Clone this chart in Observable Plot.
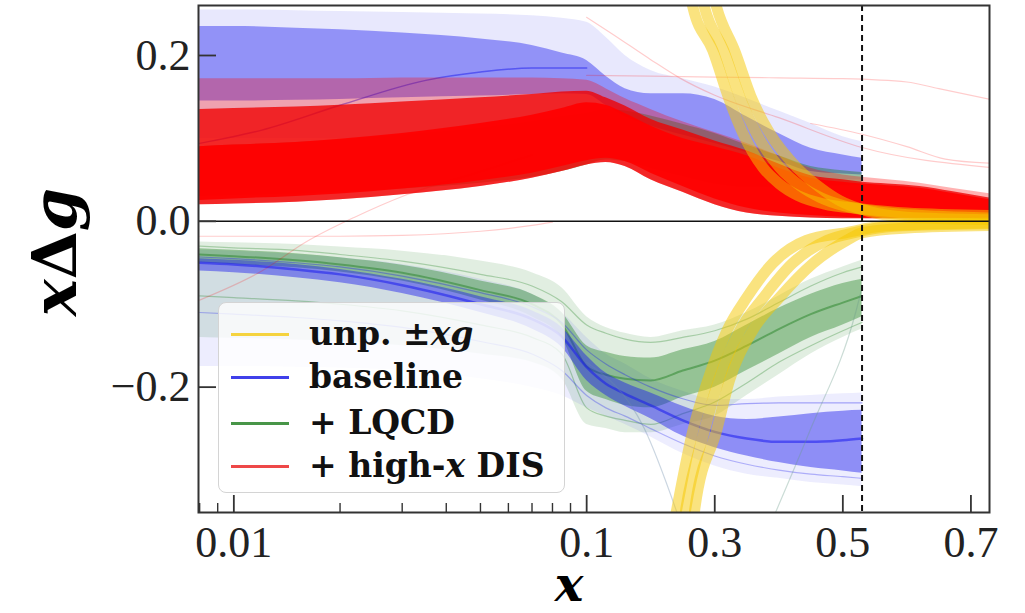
<!DOCTYPE html>
<html><head><meta charset="utf-8">
<script src="https://cdn.jsdelivr.net/npm/d3@7"></script>
<script src="https://cdn.jsdelivr.net/npm/@observablehq/plot@0.6"></script>
<style>
body{margin:0;background:#fff;}
#wrap{position:relative;width:1025px;height:613px;overflow:hidden;background:#fff;}
#wrap svg{position:absolute;left:0;top:0;}
.ylab{position:absolute;left:55px;top:252px;transform:translate(-50%,-50%) rotate(-90deg);white-space:nowrap;font:italic bold 62px "DejaVu Serif";color:#000;line-height:50px;}
.legend{position:absolute;left:218px;top:302px;width:345px;height:189px;border:1.5px solid #d4d4d4;border-radius:8px;background:rgba(255,255,255,0.8);}
.legend .row{position:absolute;left:0;height:40px;width:100%;}
.legend .sw{position:absolute;left:12px;top:19px;width:58px;height:3px;}
.legend .tx{position:absolute;left:90px;top:0;line-height:40px;font:bold 33px "DejaVu Serif";color:#111;white-space:nowrap;}
.legend i{font-style:italic;}
</style></head><body><div id="wrap"></div><script>
// ---------- data ----------
const grid = [0.008,0.01,0.015,0.02,0.03,0.05,0.07,0.085,0.1,0.13,0.16,0.2,0.25,0.3,0.35,0.4,0.45,0.5,0.53];
const gridRed = [0.008,0.01,0.015,0.02,0.03,0.05,0.07,0.085,0.1,0.13,0.16,0.2,0.25,0.3,0.35,0.4,0.45,0.5,0.53,0.57,0.62,0.67,0.73];

// baseline (blue), positive branch
const blueUpOuterHi = [0.255,0.255,0.254,0.253,0.252,0.25,0.248,0.245,0.24,0.222,0.2,0.182,0.172,0.162,0.148,0.133,0.118,0.102,0.096];
const blueUpOuterLo = [0.10,0.10,0.10,0.10,0.10,0.105,0.11,0.11,0.11,0.10,0.09,0.08,0.07,0.065,0.06,0.055,0.05,0.05,0.05];
const blueUpCoreHi  = [0.235,0.235,0.233,0.231,0.227,0.22,0.212,0.203,0.194,0.175,0.16,0.154,0.154,0.147,0.126,0.106,0.088,0.08,0.076];
const blueUpCoreLo  = [0.145,0.145,0.146,0.147,0.149,0.151,0.153,0.154,0.153,0.14,0.126,0.115,0.104,0.094,0.083,0.072,0.06,0.057,0.056];
// + LQCD (green), positive branch
const greenUpHi = [0.09,0.092,0.095,0.098,0.104,0.112,0.12,0.126,0.13,0.135,0.133,0.127,0.117,0.106,0.092,0.079,0.066,0.061,0.059];
const greenUpLo = [0.03,0.031,0.033,0.035,0.039,0.046,0.053,0.06,0.068,0.074,0.072,0.064,0.054,0.045,0.041,0.041,0.042,0.043,0.043];
// + high-x DIS (red)
const redOuterHi = [0.172,0.172,0.172,0.172,0.173,0.173,0.173,0.172,0.17,0.16,0.148,0.135,0.12,0.107,0.094,0.079,0.064,0.056,0.053,0.05,0.046,0.04,0.033];
const redOuterLo = [0.02,0.021,0.023,0.026,0.032,0.042,0.052,0.06,0.068,0.071,0.066,0.05,0.035,0.02,0.01,0.006,0.004,0.003,0.003,0.003,0.003,0.003,0.002];
const redMidHi   = [0.135,0.136,0.138,0.14,0.144,0.149,0.153,0.156,0.157,0.149,0.139,0.123,0.11,0.097,0.085,0.069,0.055,0.05,0.047,0.045,0.042,0.036,0.028];
const redCoreHi  = [0.09,0.092,0.095,0.099,0.106,0.118,0.128,0.136,0.143,0.14,0.13,0.115,0.1,0.09,0.079,0.064,0.052,0.047,0.045,0.043,0.04,0.034,0.026];
const redCoreLo  = [0.025,0.027,0.03,0.033,0.039,0.049,0.058,0.066,0.073,0.076,0.072,0.058,0.042,0.027,0.016,0.01,0.007,0.005,0.004,0.004,0.004,0.004,0.003];
// baseline (blue), negative branch
const blueLoOuterHi = [-0.035,-0.036,-0.04,-0.044,-0.052,-0.07,-0.088,-0.11,-0.14,-0.16,-0.172,-0.19,-0.205,-0.215,-0.215,-0.212,-0.21,-0.208,-0.207];
const blueLoOuterLo = [-0.175,-0.175,-0.176,-0.177,-0.18,-0.19,-0.2,-0.21,-0.225,-0.235,-0.245,-0.26,-0.28,-0.295,-0.305,-0.31,-0.315,-0.318,-0.32];
const blueLoCoreHi  = [-0.045,-0.047,-0.052,-0.058,-0.07,-0.091,-0.108,-0.128,-0.162,-0.183,-0.195,-0.207,-0.223,-0.235,-0.239,-0.236,-0.232,-0.229,-0.228];
const blueLoCoreLo  = [-0.06,-0.062,-0.068,-0.074,-0.087,-0.11,-0.13,-0.152,-0.192,-0.21,-0.223,-0.238,-0.259,-0.273,-0.283,-0.291,-0.297,-0.301,-0.304];
const blueLoLine1   = [-0.05,-0.052,-0.058,-0.064,-0.077,-0.1,-0.118,-0.139,-0.176,-0.196,-0.208,-0.222,-0.24,-0.254,-0.262,-0.266,-0.266,-0.264,-0.262];
const blueLoLine2   = [-0.11,-0.112,-0.116,-0.12,-0.128,-0.145,-0.16,-0.18,-0.21,-0.225,-0.235,-0.25,-0.268,-0.283,-0.293,-0.3,-0.305,-0.308,-0.31];
const blueLoLine3   = [-0.043,-0.045,-0.05,-0.055,-0.066,-0.086,-0.103,-0.122,-0.155,-0.172,-0.185,-0.2,-0.214,-0.222,-0.22,-0.219,-0.219,-0.219,-0.219];
// + LQCD (green), negative branch
const greenLoOuterHi = [-0.025,-0.026,-0.028,-0.031,-0.036,-0.048,-0.062,-0.08,-0.115,-0.128,-0.135,-0.14,-0.132,-0.125,-0.11,-0.09,-0.07,-0.055,-0.047];
const greenLoOuterLo = [-0.14,-0.141,-0.143,-0.145,-0.15,-0.16,-0.17,-0.19,-0.245,-0.25,-0.255,-0.255,-0.245,-0.235,-0.21,-0.185,-0.16,-0.14,-0.13];
const greenLoCoreHi  = [-0.033,-0.035,-0.039,-0.044,-0.053,-0.072,-0.088,-0.11,-0.15,-0.158,-0.163,-0.165,-0.155,-0.145,-0.125,-0.105,-0.088,-0.075,-0.07];
const greenLoCoreLo  = [-0.05,-0.052,-0.056,-0.061,-0.072,-0.095,-0.115,-0.14,-0.205,-0.215,-0.222,-0.225,-0.212,-0.2,-0.18,-0.16,-0.14,-0.125,-0.115];
const greenLoLine1 = [-0.04,-0.042,-0.047,-0.052,-0.062,-0.083,-0.1,-0.124,-0.175,-0.185,-0.19,-0.192,-0.18,-0.168,-0.15,-0.13,-0.112,-0.098,-0.09];
const greenLoLine2 = [-0.03,-0.032,-0.035,-0.04,-0.048,-0.064,-0.078,-0.097,-0.125,-0.135,-0.142,-0.146,-0.14,-0.132,-0.118,-0.098,-0.078,-0.062,-0.055];
const greenLoLine3 = [-0.09,-0.092,-0.096,-0.1,-0.108,-0.125,-0.14,-0.16,-0.225,-0.235,-0.24,-0.245,-0.232,-0.218,-0.195,-0.17,-0.15,-0.132,-0.122];

// unpolarized ±xg (yellow): edges and middle of each band, as (x, y) pairs
const ypL_x = [0.255,0.266,0.297,0.323,0.344,0.375,0.401,0.43,0.47,0.53,0.6,0.73];
const ypL_y = [0.30,0.258,0.206,0.146,0.106,0.065,0.045,0.031,0.021,0.015,0.01,0.007];
const ypM_x = [0.272,0.284,0.314,0.341,0.365,0.401,0.433,0.464,0.5,0.56,0.65,0.73];
const ypM_y = [0.30,0.258,0.206,0.146,0.106,0.065,0.043,0.029,0.019,0.011,0.006,0.004];
const ypR_x = [0.29,0.303,0.331,0.359,0.386,0.428,0.464,0.495,0.54,0.6,0.73];
const ypR_y = [0.30,0.258,0.206,0.146,0.106,0.065,0.041,0.025,0.012,0.005,0.002];
const ymA_x = [0.228,0.241,0.266,0.289,0.319,0.35,0.39,0.443,0.506,0.56,0.65,0.73];
const ymA_y = [-0.40,-0.346,-0.252,-0.192,-0.132,-0.092,-0.051,-0.023,-0.0136,-0.006,-0.003,-0.002];
const ymM_x = [0.245,0.255,0.284,0.306,0.339,0.376,0.421,0.475,0.518,0.58,0.73];
const ymM_y = [-0.40,-0.346,-0.252,-0.192,-0.132,-0.092,-0.051,-0.023,-0.0136,-0.006,-0.003];
const ymB_x = [0.262,0.269,0.303,0.323,0.359,0.401,0.453,0.506,0.531,0.6,0.73];
const ymB_y = [-0.40,-0.346,-0.252,-0.192,-0.132,-0.092,-0.051,-0.023,-0.0136,-0.008,-0.005];

// individual outlying replicas
const redOut1_x = [0.1,0.2,0.3,0.4,0.5,0.6,0.65,0.73], redOut1_y = [0.176,0.175,0.174,0.173,0.172,0.168,0.16,0.147];
const redOut2_x = [0.1,0.14,0.2,0.245,0.3,0.4,0.53,0.73], redOut2_y = [0.246,0.226,0.195,0.173,0.152,0.125,0.089,0.065];
const redOut3_x = [0.45,0.53,0.6,0.66,0.73], redOut3_y = [0.118,0.105,0.09,0.075,0.07];
const redOut4_x = [0.008,0.01,0.02,0.03,0.05,0.07,0.08], redOut4_y = [-0.018,-0.018,-0.018,-0.017,-0.012,-0.005,-0.001];
const redOut5_x = [0.008,0.012,0.016,0.022,0.03,0.05,0.07], redOut5_y = [-0.095,-0.06,-0.025,0.005,0.03,0.06,0.08];
const blueOut1_x = [0.008,0.012,0.02,0.035,0.05,0.07,0.1], blueOut1_y = [0.094,0.11,0.14,0.17,0.18,0.185,0.185];
const gg1_x = [0.39,0.45,0.52,0.53], gg1_y = [-0.36,-0.25,-0.11,-0.08];
const gg2_x = [0.1,0.19,0.245], gg2_y = [-0.17,-0.25,-0.36];

const xMajor = [0.01,0.1,0.3,0.5,0.7];
const xMajorLabels = ["0.01","0.1","0.3","0.5","0.7"];
const xMinor = [0.008,0.009,0.02,0.03,0.04,0.05,0.06,0.07,0.08,0.09];
const yMajor = [-0.2,0,0.2];
const yMajorLabels = ["\u22120.2","0.0","0.2"];
const xCut = 0.53;
const xLim = [0.00794, 0.729];
const yLim = [-0.3512, 0.2603];

// ---------- scale: log below 0.1, linear above ----------
const U = x => x <= 0.1 ? Math.log10(x) : -1 + (x - 0.1) * 1.8152;
const band = (xs, lo, hi) => xs.map((x, i) => ({x: U(x), lo: lo[i], hi: hi[i]}));
const crv = (xs, ys) => xs.map((x, i) => ({x: U(x), y: ys[i]}));

const area = (d, fill, op) => Plot.areaY(d, {x: "x", y1: "lo", y2: "hi", fill, fillOpacity: op, curve: "monotone-x", clip: true});
const line = (d, stroke, w, op) => Plot.line(d, {x: "x", y: "y", stroke, strokeWidth: w, strokeOpacity: op, curve: "monotone-x", clip: true});

const W = 1025, H = 613, mL = 198, mR = 36, mT = 5, mB = 101;
const uDom = [U(xLim[0]), U(xLim[1])];
const tickLenY = 17 * (yLim[1] - yLim[0]) / (H - mT - mB);
const tickLenYm = 9 * (yLim[1] - yLim[0]) / (H - mT - mB);
const tickLenX = 18 * (uDom[1] - uDom[0]) / (W - mL - mR);

const BLUE = "#1a1aee", GREEN = "#1b7d1b", RED = "#ff0000", YEL = "#f5c800";

const chart = Plot.plot({
  width: W, height: H,
  marginLeft: mL, marginRight: mR, marginTop: mT, marginBottom: mB,
  x: {type: "linear", domain: uDom, axis: null},
  y: {type: "linear", domain: yLim, axis: null},
  style: {background: "transparent"},
  marks: [
    // negative branches
    area(band(grid, greenLoOuterLo, greenLoOuterHi), GREEN, 0.13),
    area(band(grid, blueLoOuterLo, blueLoOuterHi), BLUE, 0.08),
    area(band(grid, greenLoCoreLo, greenLoCoreHi), GREEN, 0.38),
    line(crv(grid, greenLoLine1), GREEN, 2, 0.45),
    line(crv(grid, greenLoLine2), GREEN, 1.2, 0.3),
    line(crv(grid, greenLoLine3), GREEN, 1.2, 0.3),
    area(band(grid, blueLoCoreLo, blueLoCoreHi), BLUE, 0.45),
    line(crv(grid, blueLoLine1), BLUE, 2.5, 0.55),
    line(crv(grid, blueLoLine2), BLUE, 1.2, 0.3),
    line(crv(grid, blueLoLine3), BLUE, 1.2, 0.35),
    line(crv(gg1_x, gg1_y), "#6a9a8a", 1.2, 0.35),
    line(crv(gg2_x, gg2_y), "#6a8aaa", 1.2, 0.35),
    // positive branches
    area(band(grid, blueUpOuterLo, blueUpOuterHi), BLUE, 0.1),
    area(band(grid, blueUpCoreLo, blueUpCoreHi), "#2a2af0", 0.45),
    line(crv(blueOut1_x, blueOut1_y), BLUE, 1.5, 0.5),
    area(band(grid, greenUpLo, greenUpHi), GREEN, 0.4),
    area(band(gridRed, redOuterLo, redOuterHi), RED, 0.3),
    area(band(gridRed, redOuterLo, redMidHi), "#f00000", 0.78),
    area(band(gridRed, redCoreLo, redCoreHi), RED, 0.92),
    line(crv(redOut1_x, redOut1_y), RED, 1.2, 0.2),
    line(crv(redOut2_x, redOut2_y), RED, 1.2, 0.2),
    line(crv(redOut3_x, redOut3_y), RED, 1.2, 0.2),
    line(crv(redOut4_x, redOut4_y), RED, 1.2, 0.2),
    line(crv(redOut5_x, redOut5_y), RED, 1.2, 0.2),
    // unpolarized ±xg
    line(crv(ypL_x, ypL_y), YEL, 11, 0.5),
    line(crv(ypM_x, ypM_y), YEL, 11, 0.5),
    line(crv(ypR_x, ypR_y), YEL, 11, 0.5),
    line(crv(ymA_x, ymA_y), YEL, 11, 0.5),
    line(crv(ymM_x, ymM_y), YEL, 11, 0.5),
    line(crv(ymB_x, ymB_y), YEL, 11, 0.5),
    // reference lines
    Plot.ruleY([0], {stroke: "#111", strokeWidth: 1.6}),
    Plot.ruleX([xCut], {x: d => U(d), stroke: "#111", strokeWidth: 2, strokeDasharray: "6,4"}),
    // ticks (inward)
    Plot.ruleX(xMajor, {x: d => U(d), y1: yLim[0], y2: yLim[0] + tickLenY, stroke: "#333", strokeWidth: 1.8}),
    Plot.ruleX(xMinor, {x: d => U(d), y1: yLim[0], y2: yLim[0] + tickLenYm, stroke: "#333", strokeWidth: 1.4}),
    Plot.ruleY(yMajor, {y: d => d, x1: uDom[0], x2: uDom[0] + tickLenX, stroke: "#333", strokeWidth: 1.8}),
    Plot.frame({stroke: "#333", strokeWidth: 2}),
    // tick labels
    Plot.text(xMajor, {x: d => U(d), y: yLim[0], text: (d, i) => xMajorLabels[i], dy: 30, fontSize: 44, fontFamily: "Liberation Serif", fill: "#222", textAnchor: "middle"}),
    Plot.text(yMajor, {x: uDom[0], y: d => d, text: (d, i) => yMajorLabels[i], dx: -8, fontSize: 44, fontFamily: "Liberation Serif", fill: "#222", textAnchor: "end"}),
    // x-axis label
    Plot.text(["x"], {frameAnchor: "bottom", text: d => d, dx: -25, dy: 88, fontSize: 48, fontWeight: "bold", fontStyle: "italic", fontFamily: "DejaVu Serif", fill: "#000"})
  ]
});

const wrap = document.getElementById("wrap");
wrap.appendChild(chart);

const yl = document.createElement("div");
yl.className = "ylab";
yl.innerHTML = 'x<span style="font-style:normal">\u0394</span>g';
wrap.appendChild(yl);

const legendItems = [
  {color: "rgba(245,205,30,0.85)", html: 'unp. \u00b1<i>xg</i>'},
  {color: "rgba(30,30,230,0.85)", html: 'baseline'},
  {color: "rgba(40,130,40,0.85)", html: '+ LQCD'},
  {color: "rgba(235,40,40,0.85)", html: '+ high-<i>x</i> DIS'}
];
const lg = document.createElement("div");
lg.className = "legend";
const rowTops = [11, 54, 100, 143];
legendItems.forEach((it, i) => {
  const r = document.createElement("div");
  r.className = "row";
  r.style.top = rowTops[i] + "px";
  r.innerHTML = `<div class="sw" style="background:${it.color}"></div><div class="tx">${it.html}</div>`;
  lg.appendChild(r);
});
wrap.appendChild(lg);
</script></body></html>
